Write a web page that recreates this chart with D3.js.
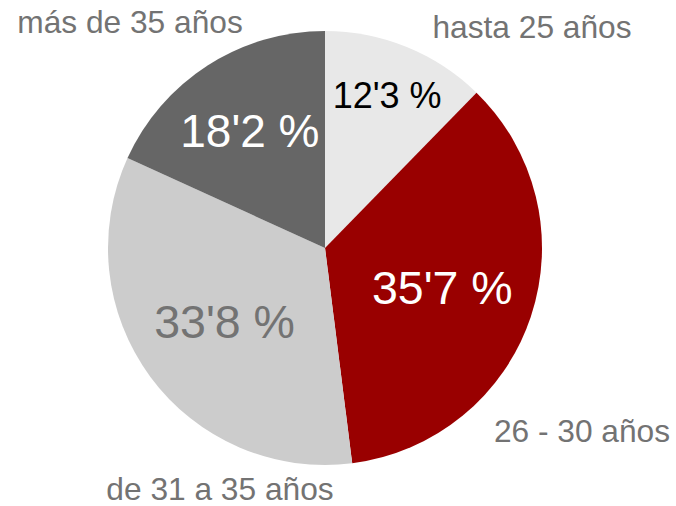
<!DOCTYPE html>
<html><head><meta charset="utf-8">
<script src="https://cdn.jsdelivr.net/npm/d3@7"></script>
<style>html,body{margin:0;padding:0;background:#fff;}svg{display:block;}</style>
</head><body>
<script>
const categories = ["hasta 25 años", "26 - 30 años", "de 31 a 35 años", "más de 35 años"];
const values = [12.3, 35.7, 33.8, 18.2];
const valueLabels = ["12'3 %", "35'7 %", "33'8 %", "18'2 %"];
const colors = ["#e8e8e8", "#990000", "#cccccc", "#666666"];
const valueColors = ["#000000", "#ffffff", "#737373", "#ffffff"];
const valueFontSizes = [36, 46.5, 46.5, 46];
const valueRadiusFrac = [0.76, 0.57, 0.575, 0.64];
// category label anchor points (text layout)
const catPos = [[532, 38], [582, 442], [220, 500], [130, 33]];

const W = 676, H = 506, cx = 325, cy = 248, R = 217;
const svg = d3.select("body").append("svg").attr("width", W).attr("height", H);
const g = svg.append("g").attr("transform", `translate(${cx},${cy})`);
const data = categories.map((c, i) => ({c, v: values[i], i}));
const pie = d3.pie().sort(null).value(d => d.v).startAngle(0).endAngle(2 * Math.PI);
const arcs = pie(data);
const arc = d3.arc().innerRadius(0).outerRadius(R);
g.selectAll("path").data(arcs).join("path")
  .attr("d", arc).attr("fill", d => colors[d.data.i]);
g.selectAll("text.val").data(arcs).join("text").attr("class", "val")
  .attr("transform", d => {
    const r = R * valueRadiusFrac[d.data.i];
    const a = (d.startAngle + d.endAngle) / 2;
    return `translate(${r * Math.sin(a)},${-r * Math.cos(a)})`;
  })
  .attr("text-anchor", "middle").attr("dy", "0.35em")
  .attr("font-family", "'Liberation Sans', Arial, sans-serif")
  .attr("font-size", d => valueFontSizes[d.data.i])
  .attr("fill", d => valueColors[d.data.i])
  .text(d => valueLabels[d.data.i]);
svg.selectAll("text.cat").data(data).join("text").attr("class", "cat")
  .attr("x", d => catPos[d.i][0]).attr("y", d => catPos[d.i][1])
  .attr("text-anchor", "middle")
  .attr("font-family", "'Liberation Sans', Arial, sans-serif")
  .attr("font-size", 31.7).attr("fill", "#737373")
  .text(d => d.c);
</script>
</body></html>
